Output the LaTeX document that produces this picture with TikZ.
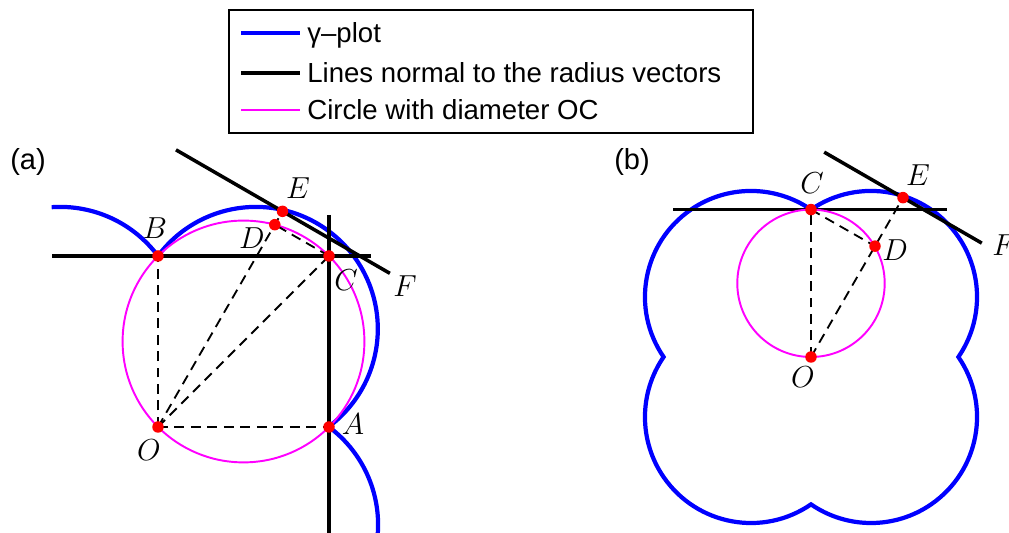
\documentclass[tikz,border=0pt]{standalone}
\usepackage{fontspec}
\setmainfont{Liberation Sans}
\usetikzlibrary{calc}
\definecolor{gammaBlue}{RGB}{0,0,255}
\definecolor{circMagenta}{RGB}{255,0,255}
\definecolor{dotRed}{RGB}{255,0,0}
\tikzset{
    gplot/.style={draw=gammaBlue,line width=2.4pt},
    normline/.style={draw=black,line width=2pt},
    dcircle/.style={draw=circMagenta,line width=1.1pt},
    guide/.style={draw=black,line width=1.05pt,dash pattern=on 0.2cm off 0.13cm},
    pt/.style={circle,fill=dotRed,inner sep=0pt,minimum size=0.23cm},
    lbl/.style={font=\fontsize{17}{20}\selectfont,inner sep=0pt},
    tag/.style={font=\fontsize{16.5}{19}\selectfont,inner sep=0pt},
    legtext/.style={font=\fontsize{15.7}{18}\selectfont,anchor=base west,inner sep=0pt},
    legframe/.style={draw=black,line width=0.7pt}
}

\begin{document}
\begin{tikzpicture}[x=0.02cm,y=0.02cm]
    \useasboundingbox (0,0) rectangle (1009,533);

    % legend
    \draw[legframe] (229,400) rectangle (753,523);
    \draw[gplot] (241,500) -- (300,500);
    \node[legtext] (leg1) at (307,490) {γ–plot};
    \draw[normline] (241,460) -- (300,460);
    \node[legtext] (leg2) at (307,450) {Lines normal to the radius vectors};
    \draw[dcircle] (241,423) -- (300,423);
    \node[legtext] (leg3) at (307,413) {Circle with diameter OC};

    \node[tag] (taga) at (28,371) {(a)};
    \node[tag] (tagb) at (632,371) {(b)};

    % panel (a)
    \begin{scope}[shift={(158,106)}]
        \coordinate (Oa) at (0,0);
        \coordinate (Aa) at (171,0);
        \coordinate (Ba) at (0,171);
        \coordinate (Ca) at (171,171);
        \coordinate (Da) at (60:233.6);
        \coordinate (Ea) at (60:249);
        \coordinate (Ma) at ($(Oa)!0.5!(Ca)$);
        \coordinate (hLa) at (-106,171);
        \coordinate (hRa) at (213,171);
        \coordinate (vTa) at (171,212);
        \coordinate (vBa) at (171,-115);
        \coordinate (tLa) at ($(Ea)+(150:123)$);
        \coordinate (tRa) at ($(Ea)+(-30:124)$);

        \draw[gplot] (Ba) arc[start angle=36.7,end angle=94,radius=122];
        \draw[gplot] (Ba) arc[start angle=143.3,end angle=-53.3,radius=122];
        \draw[gplot] (Aa) arc[start angle=53.3,end angle=-8,radius=122];

        \draw[normline] (hLa) -- (hRa);
        \draw[normline] (vTa) -- (vBa);
        \draw[normline] (tLa) -- (tRa);

        \draw[dcircle] (Ma) circle[radius=120.9];

        \draw[guide] (Oa) -- (Ba);
        \draw[guide] (Oa) -- (Aa);
        \draw[guide] (Oa) -- (Ca);
        \draw[guide] (Oa) -- (Ea);
        \draw[guide] (Ca) -- (Da);

        \foreach \p in {Oa,Aa,Ba,Ca,Da,Ea}
            \node[pt] at (\p) {};

        \node[lbl] (labEa) at (140,239) {$E$};
        \node[lbl] (labBa) at (-3,199) {$B$};
        \node[lbl] (labDa) at (94,189) {$D$};
        \node[lbl] (labCa) at (188,147) {$C$};
        \node[lbl] (labFa) at (247,141) {$F$};
        \node[lbl] (labAa) at (195,3) {$A$};
        \node[lbl] (labOa) at (-9,-23) {$O$};
    \end{scope}

    % panel (b)
    \begin{scope}[shift={(811,176)}]
        \coordinate (Ob) at (0,0);
        \coordinate (Cb) at (0,147.4);
        \coordinate (Db) at (60:128);
        \coordinate (Eb) at (60:184);
        \coordinate (Mb) at ($(Ob)!0.5!(Cb)$);
        \coordinate (hLb) at (-138,147.4);
        \coordinate (hRb) at (136,147.4);
        \coordinate (tLb) at ($(Eb)+(150:91)$);
        \coordinate (tRb) at ($(Eb)+(-30:91)$);

        \draw[gplot] (Cb) arc[start angle=124.5,end angle=-34.5,radius=106]
            arc[start angle=34.5,end angle=-124.5,radius=106]
            arc[start angle=-55.5,end angle=-214.5,radius=106]
            arc[start angle=214.5,end angle=55.5,radius=106] -- cycle;

        \draw[normline] (hLb) -- (hRb);
        \draw[normline] (tLb) -- (tRb);

        \draw[dcircle] (Mb) circle[radius=73.7];

        \draw[guide] (Ob) -- (Cb);
        \draw[guide] (Ob) -- (Eb);
        \draw[guide] (Cb) -- (Db);

        \foreach \p in {Ob,Cb,Db,Eb}
            \node[pt] at (\p) {};

        \node[lbl] (labCb) at (1,174) {$C$};
        \node[lbl] (labEb) at (107,182) {$E$};
        \node[lbl] (labDb) at (84,107) {$D$};
        \node[lbl] (labFb) at (193,112) {$F$};
        \node[lbl] (labOb) at (-8,-20) {$O$};
    \end{scope}
\end{tikzpicture}
\end{document}
